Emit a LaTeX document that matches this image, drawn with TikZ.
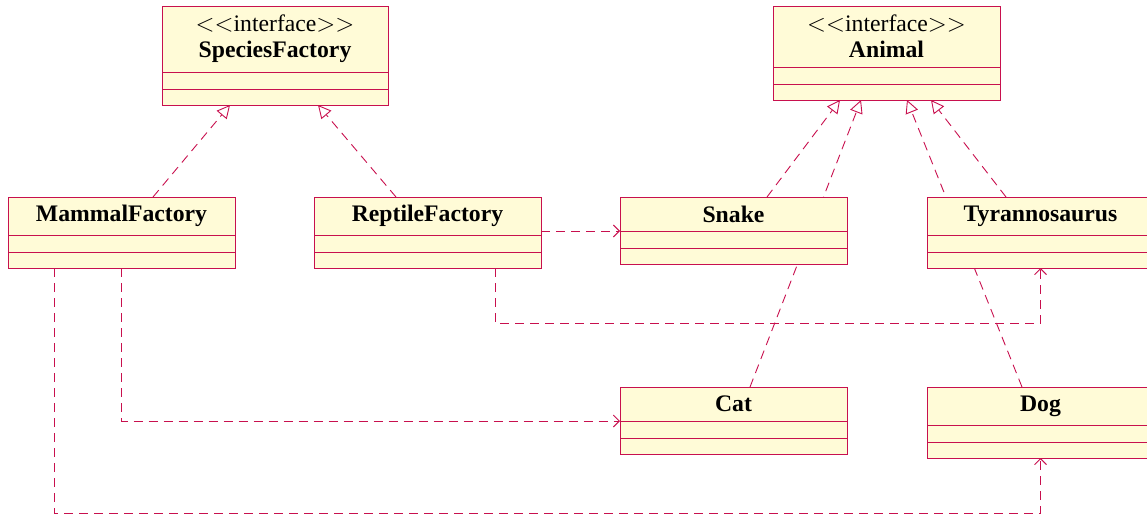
\documentclass[tikz,border=0pt]{standalone}
\usepackage{fontspec}
\setmainfont{Liberation Serif}
\usetikzlibrary{arrows.meta,positioning,backgrounds}
\definecolor{umlred}{RGB}{200,16,78}
\definecolor{umlfill}{RGB}{255,251,215}

\newcommand{\umlclass}[6]{%
\node [classtitle,minimum width=#4pt,minimum height=#5pt] (#1) at (#2,#3) {#6};
\node [classpart,minimum width=#4pt,minimum height=17pt,below=0 of #1] (#1-attr) {};
\node [classpart,minimum width=#4pt,minimum height=16pt,below=0 of #1-attr] (#1-ops) {};
}

\begin{document}
\begin{tikzpicture}[x=1pt,y=-1pt,
classtitle/.style={draw=umlred,fill=umlfill,line width=0.9pt,inner sep=0pt,outer sep=0pt,anchor=north west,align=center,font=\fontsize{23.7}{26}\selectfont\bfseries},
classpart/.style={draw=umlred,fill=umlfill,line width=0.9pt,inner sep=0pt,outer sep=0pt},
realize/.style={draw=umlred,line width=0.9pt,dash pattern=on 9pt off 6pt,-{Triangle[open,length=13pt,width=13pt]}},
depend/.style={draw=umlred,line width=0.9pt,dash pattern=on 9pt off 6pt,-{Straight Barb[length=6pt,width=12pt]}}]
\useasboundingbox (0,0) rectangle (1147,515);
\clip (0,0) rectangle (1147,515);
\umlclass{species}{162}{6}{226}{66}{{\mdseries $<<$interface$>>$}\\SpeciesFactory}
\umlclass{animal}{773}{6}{227}{61}{{\mdseries $<<$interface$>>$}\\Animal}
\umlclass{mammal}{8}{197}{227}{38}{MammalFactory}
\umlclass{reptile}{314}{197}{227}{38}{ReptileFactory}
\umlclass{snake}{620}{197}{227}{34}{Snake}
\umlclass{tyranno}{927}{197}{227}{38}{Tyrannosaurus}
\umlclass{cat}{620}{387}{227}{34}{Cat}
\umlclass{dog}{927}{387}{227}{38}{Dog}
\begin{pgfonlayer}{background}
% realizations
\draw [realize] ([xshift=31.5pt]mammal.north) -- ([xshift=-45pt]species-ops.south);
\draw [realize] ([xshift=-31.5pt]reptile.north) -- ([xshift=43pt]species-ops.south);
\draw [realize] ([xshift=33.5pt]snake.north) -- ([xshift=-46.5pt]animal-ops.south);
\draw [realize] ([xshift=16.5pt]cat.north) -- ([xshift=-25.5pt]animal-ops.south);
\draw [realize] ([xshift=-34.5pt]tyranno.north) -- ([xshift=44.5pt]animal-ops.south);
\draw [realize] ([xshift=-18.5pt]dog.north) -- ([xshift=20.5pt]animal-ops.south);
% dependencies
\draw [depend] (reptile.east |- snake.south) -- (snake.south west);
\draw [depend] ([xshift=67.5pt]reptile-ops.south) -- ++(0,55) -| (tyranno-ops.south);
\draw [depend] (mammal-ops.south) |- (cat.south west);
\draw [depend] ([xshift=-67.5pt]mammal-ops.south) -- ++(0,245) -| (dog-ops.south);
\end{pgfonlayer}
\end{tikzpicture}
\end{document}
